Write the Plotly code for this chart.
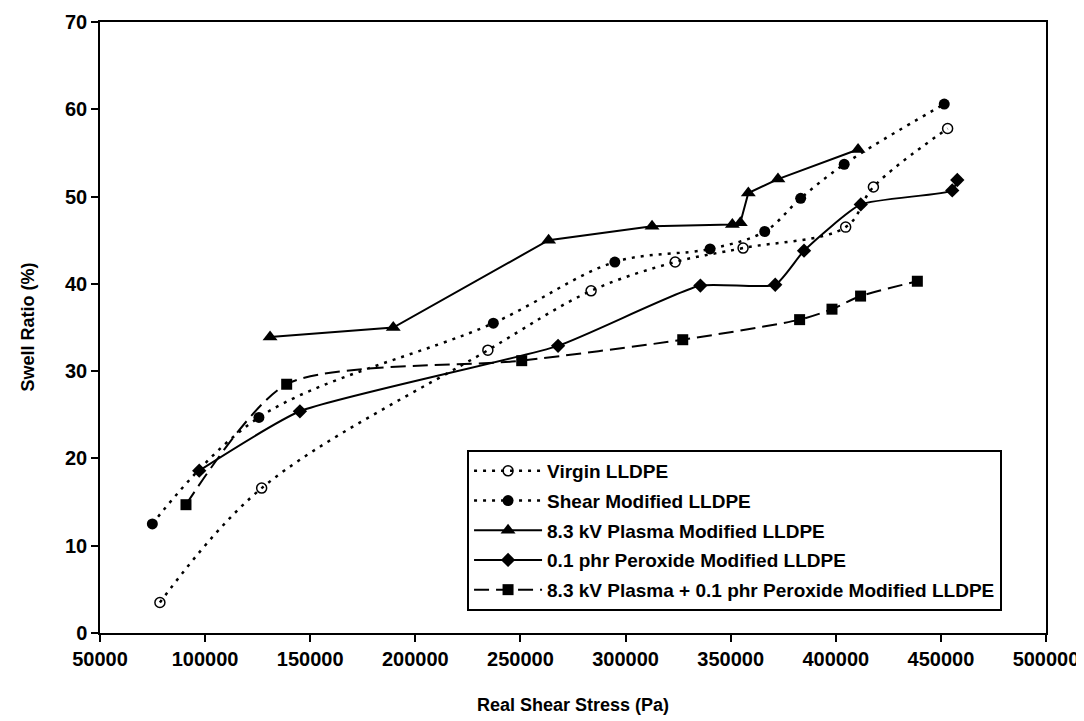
import plotly.graph_objects as go

# ---- data ----
virgin_x = [78500, 126900, 234500, 283600, 323600, 355900, 404700, 417900, 453200]
virgin_y = [3.5, 16.6, 32.4, 39.2, 42.5, 44.1, 46.5, 51.1, 57.8]

shear_x = [74900, 125600, 237100, 294900, 340200, 366200, 383300, 404000, 451600]
shear_y = [12.5, 24.7, 35.5, 42.5, 44.0, 46.0, 49.8, 53.7, 60.6]

plasma_x = [130900, 189500, 263400, 312600, 350800, 354600, 358400, 372500, 410600]
plasma_y = [33.9, 35.0, 45.0, 46.6, 46.8, 47.0, 50.4, 52.0, 55.4]

perox_x = [97200, 145100, 267900, 335600, 371200, 384900, 411900, 455400, 457800]
perox_y = [18.6, 25.4, 32.9, 39.8, 39.9, 43.8, 49.1, 50.7, 51.9]

both_x = [90900, 138800, 250600, 327200, 382800, 398200, 411800, 438800]
both_y = [14.7, 28.5, 31.2, 33.6, 35.9, 37.1, 38.6, 40.3]

names = [
    "Virgin LLDPE",
    "Shear Modified LLDPE",
    "8.3 kV Plasma Modified LLDPE",
    "0.1 phr Peroxide Modified LLDPE",
    "8.3 kV Plasma + 0.1 phr Peroxide Modified LLDPE",
]

x_ticks = [50000, 100000, 150000, 200000, 250000, 300000, 350000, 400000, 450000, 500000]
y_ticks = [0, 10, 20, 30, 40, 50, 60, 70]

x_title = "Real Shear Stress (Pa)"
y_title = "Swell Ratio (%)"

FONT = "Liberation Sans, Arial, sans-serif"

fig = go.Figure()

series = [
    (virgin_x, virgin_y, names[0], dict(dash="3px,6px", width=2.5), dict(symbol="circle-open", size=10, color="black", line=dict(width=1.5, color="black")), "spline", 1.0),
    (shear_x, shear_y, names[1], dict(dash="3px,6px", width=2.5), dict(symbol="circle", size=11, color="black"), "spline", 1.0),
    (plasma_x, plasma_y, names[2], dict(dash="solid", width=2), dict(symbol="triangle-up", size=13, color="black"), "linear", 0),
    (perox_x, perox_y, names[3], dict(dash="solid", width=2), dict(symbol="diamond", size=11, color="black"), "spline", 0.5),
    (both_x, both_y, names[4], dict(dash="15px,7px", width=2), dict(symbol="square", size=11, color="black"), "spline", 0.7),
]

for i, (xs, ys, nm, ln, mk, shape, sm) in enumerate(series):
    line = dict(color="black", shape=shape, **ln)
    if shape == "spline":
        line["smoothing"] = sm
    fig.add_trace(go.Scatter(
        x=xs, y=ys, name=nm, mode="lines+markers",
        line=line, marker=mk, legendgroup=f"g{i}",
    ))

# the page body adds an 8px offset; margins compensate for it
fig.update_layout(
    width=1084, height=721,
    margin=dict(l=92, r=46, t=14, b=96),
    paper_bgcolor="white", plot_bgcolor="white",
    font=dict(family=FONT, size=19, color="black"),
    showlegend=True,
    legend=dict(
        x=0.388, y=0.2995, xanchor="left", yanchor="top",
        bgcolor="white", bordercolor="black", borderwidth=2,
        font=dict(family=FONT, size=19, color="black", weight="bold"),
        itemwidth=68, tracegroupgap=2,
    ),
    annotations=[
        dict(text=x_title, xref="paper", yref="paper", x=0.5, y=0, yshift=-72,
             xanchor="center", yanchor="middle", showarrow=False,
             font=dict(family=FONT, size=18, color="black", weight="bold")),
        dict(text=y_title, xref="paper", yref="paper", x=0, y=0.5, xshift=-73,
             xanchor="center", yanchor="middle", showarrow=False, textangle=-90,
             font=dict(family=FONT, size=18, color="black", weight="bold")),
    ],
)

fig.update_xaxes(
    range=[50000, 500000], tickvals=x_ticks, ticktext=[str(v) for v in x_ticks],
    showgrid=False, zeroline=False, automargin=False,
    showline=True, linecolor="black", linewidth=1.5, mirror=True,
    ticks="outside", ticklen=7, tickwidth=1.5, tickcolor="black",
    tickfont=dict(family=FONT, size=20, color="black", weight="bold"),
)
fig.update_yaxes(
    range=[0, 70], tickvals=y_ticks, ticktext=[str(v) for v in y_ticks],
    showgrid=False, zeroline=False, automargin=False,
    showline=True, linecolor="black", linewidth=1.5, mirror=True,
    ticks="outside", ticklen=7, tickwidth=1.5, tickcolor="black",
    tickfont=dict(family=FONT, size=20, color="black", weight="bold"),
)

fig.write_html("out.html")
